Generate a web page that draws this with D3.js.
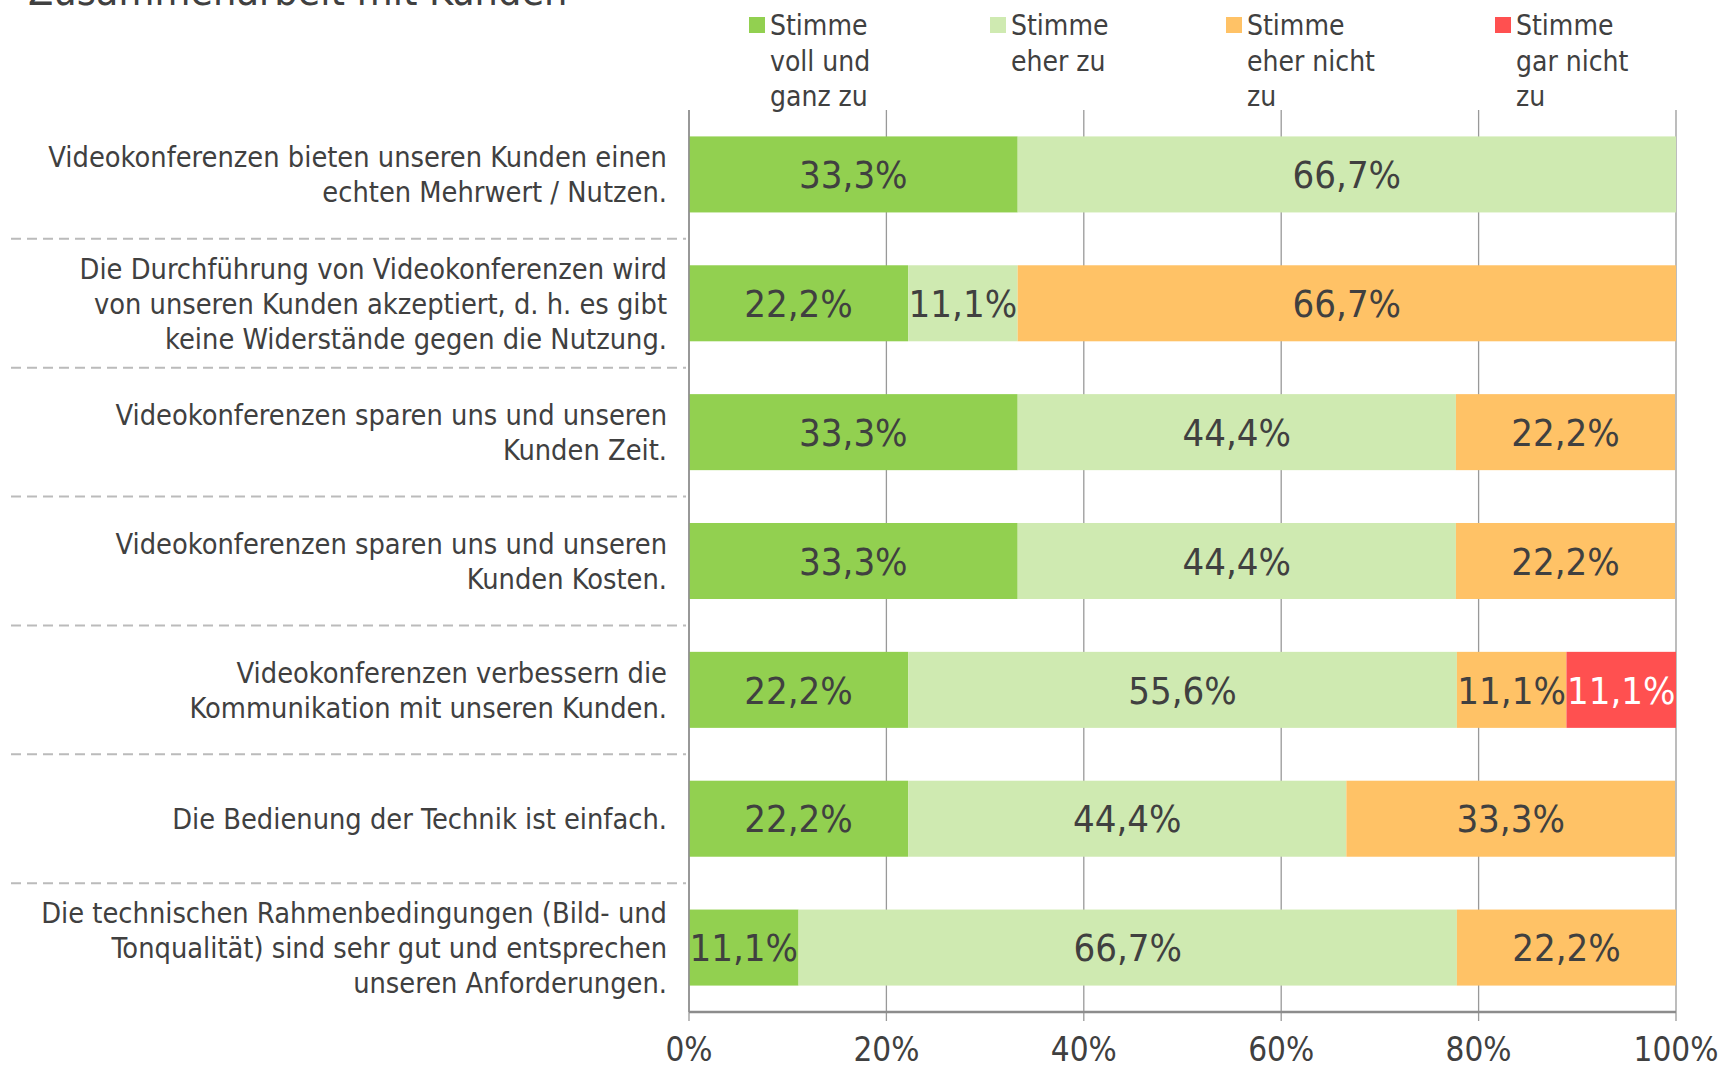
<!DOCTYPE html>
<html>
<head>
<meta charset="utf-8">
<script src="https://cdn.jsdelivr.net/npm/d3@7"></script>
<style>
  body { margin: 0; background: #fff; }
  svg text { font-family: "DejaVu Sans Condensed", "DejaVu Sans", sans-serif; fill: #404040; }
</style>
</head>
<body>
<svg id="chart" width="1721" height="1068"></svg>
<script>
const categories = [
    ["Videokonferenzen bieten unseren Kunden einen", "echten Mehrwert / Nutzen."],
    ["Die Durchführung von Videokonferenzen wird", "von unseren Kunden akzeptiert, d. h. es gibt", "keine Widerstände gegen die Nutzung."],
    ["Videokonferenzen sparen uns und unseren", "Kunden Zeit."],
    ["Videokonferenzen sparen uns und unseren", "Kunden Kosten."],
    ["Videokonferenzen verbessern die", "Kommunikation mit unseren Kunden."],
    ["Die Bedienung der Technik ist einfach."],
    ["Die technischen Rahmenbedingungen (Bild- und", "Tonqualität) sind sehr gut und entsprechen", "unseren Anforderungen."]
];
const seriesNames = [
    ["Stimme", "voll und", "ganz zu"],
    ["Stimme", "eher zu"],
    ["Stimme", "eher nicht", "zu"],
    ["Stimme", "gar nicht", "zu"]
];
const vollZu = [33.3, 22.2, 33.3, 33.3, 22.2, 22.2, 11.1];
const eherZu = [66.7, 11.1, 44.4, 44.4, 55.6, 44.4, 66.7];
const eherNicht = [0, 66.7, 22.2, 22.2, 11.1, 33.3, 22.2];
const garNicht = [0, 0, 0, 0, 11.1, 0, 0];
const tickValues = [0, 20, 40, 60, 80, 100];
const colors = ["#92d050", "#cfeab1", "#ffc266", "#ff5050"];
const labelColors = ["#404040", "#404040", "#404040", "#ffffff"];

const svg = d3.select("#chart");
const margin = { top: 110, left: 689, right: 45, bottom: 56 };
const W = 1721, H = 1068;

const x = d3.scaleLinear().domain([0, 100]).range([margin.left, W - margin.right]);
const y = d3.scaleBand().domain(d3.range(categories.length))
    .range([margin.top, H - margin.bottom]).paddingInner(0.41).paddingOuter(0.205);

const rows = categories.map((c, i) => {
    const vals = [vollZu[i], eherZu[i], eherNicht[i], garNicht[i]];
    let acc = 0;
    return vals.map((v, k) => {
        const seg = { row: i, k: k, v: v, x0: acc, x1: acc + v };
        acc += v;
        return seg;
    });
});

// title (cut off at top in the original)
svg.append("text")
    .attr("x", 28).attr("y", 5)
    .style("font-size", "41px")
    .text("Zusammenarbeit mit Kunden");

// vertical grid
svg.append("g").selectAll("line")
    .data(tickValues)
    .join("line")
    .attr("x1", d => x(d)).attr("x2", d => x(d))
    .attr("y1", margin.top).attr("y2", H - margin.bottom + 9)
    .attr("stroke", "#999").attr("stroke-width", 1.3);

// dashed separators between the category labels
const step = y.step();
svg.append("g").selectAll("line")
    .data(d3.range(1, categories.length))
    .join("line")
    .attr("x1", 11).attr("x2", margin.left - 3)
    .attr("y1", d => margin.top + step * d).attr("y2", d => margin.top + step * d)
    .attr("stroke", "#bbb").attr("stroke-width", 2)
    .attr("stroke-dasharray", "10,6");

// bars
const seg = svg.append("g").selectAll("g")
    .data(rows.flat().filter(d => d.v > 0))
    .join("g");

seg.append("rect")
    .attr("x", d => x(d.x0))
    .attr("y", d => y(d.row))
    .attr("width", d => x(d.x1) - x(d.x0))
    .attr("height", y.bandwidth())
    .attr("fill", d => colors[d.k]);

seg.append("text")
    .attr("x", d => (x(d.x0) + x(d.x1)) / 2)
    .attr("y", d => y(d.row) + y.bandwidth() / 2)
    .attr("dy", "0.36em")
    .attr("text-anchor", "middle")
    .style("font-size", "38px")
    .style("fill", d => labelColors[d.k])
    .text(d => d3.format(".1f")(d.v).replace(".", ",") + "%");

// axis line at bottom and left
svg.append("line")
    .attr("x1", margin.left).attr("x2", W - margin.right)
    .attr("y1", H - margin.bottom).attr("y2", H - margin.bottom)
    .attr("stroke", "#8c8c8c").attr("stroke-width", 2.5);
svg.append("line")
    .attr("x1", margin.left).attr("x2", margin.left)
    .attr("y1", margin.top).attr("y2", H - margin.bottom)
    .attr("stroke", "#8c8c8c").attr("stroke-width", 1.5);

// tick labels
svg.append("g").selectAll("text")
    .data(tickValues)
    .join("text")
    .attr("x", d => x(d))
    .attr("y", 1061)
    .attr("text-anchor", "middle")
    .style("font-size", "33px")
    .text(d => d + "%");

// category labels
const lineH = 35;
const cat = svg.append("g").selectAll("text")
    .data(categories)
    .join("text")
    .attr("text-anchor", "end")
    .style("font-size", "28.7px")
    .attr("transform", (d, i) => {
        const cy = y(i) + y.bandwidth() / 2 - (d.length - 1) * lineH / 2;
        return `translate(667,${cy})`;
    });
cat.selectAll("tspan")
    .data(d => d)
    .join("tspan")
    .attr("x", 0)
    .attr("y", (d, j) => j * lineH)
    .attr("dy", "0.36em")
    .text(d => d);

// legend
const legendX = [749, 990, 1226, 1495];
const leg = svg.append("g").selectAll("g")
    .data(seriesNames)
    .join("g")
    .attr("transform", (d, i) => `translate(${legendX[i]},0)`);
leg.append("rect")
    .attr("x", 0).attr("y", 17)
    .attr("width", 16).attr("height", 16)
    .attr("fill", (d, i) => colors[i]);
const lt = leg.append("text").style("font-size", "28px");
lt.selectAll("tspan")
    .data(d => d)
    .join("tspan")
    .attr("x", 21)
    .attr("y", (d, j) => 25 + j * 35.7)
    .attr("dy", "0.36em")
    .text(d => d);
</script>
</body>
</html>
